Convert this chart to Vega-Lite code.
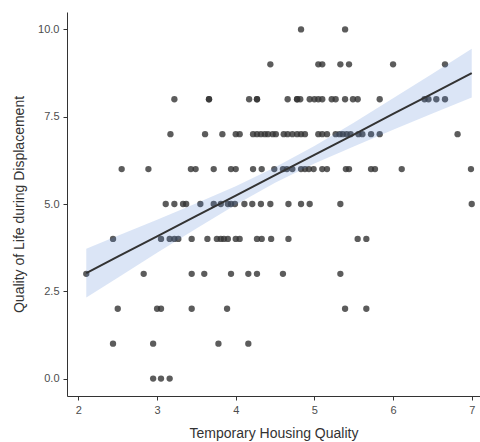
{
  "$schema": "https://vega.github.io/schema/vega-lite/v6.json",
  "width": 413,
  "height": 384,
  "autosize": {"type": "none"},
  "padding": {"left": 67, "top": 12, "right": 0, "bottom": 46},
  "background": "white",
  "config": {
    "view": {"stroke": null},
    "font": "Liberation Sans",
    "axis": {
      "grid": false,
      "domainColor": "#333333",
      "domainWidth": 1,
      "tickColor": "#333333",
      "tickSize": 4,
      "labelColor": "#4d4d4d",
      "labelFontSize": 11,
      "labelFont": "Liberation Sans",
      "titleFont": "Liberation Sans",
      "titleFontSize": 14,
      "titleFontWeight": "normal",
      "titleColor": "#333333"
    }
  },
  "datasets": {
    "pts": [
      {"housing": 4.83, "life": 10}, {"housing": 5.39, "life": 10},
      {"housing": 4.44, "life": 9}, {"housing": 5.05, "life": 9}, {"housing": 5.10, "life": 9}, {"housing": 5.33, "life": 9}, {"housing": 5.44, "life": 9}, {"housing": 6.0, "life": 9}, {"housing": 6.66, "life": 9},
      {"housing": 3.22, "life": 8}, {"housing": 3.66, "life": 8}, {"housing": 3.66, "life": 8}, {"housing": 4.17, "life": 8}, {"housing": 4.27, "life": 8}, {"housing": 4.27, "life": 8}, {"housing": 4.66, "life": 8}, {"housing": 4.78, "life": 8}, {"housing": 4.78, "life": 8}, {"housing": 4.82, "life": 8}, {"housing": 4.94, "life": 8}, {"housing": 5.0, "life": 8}, {"housing": 5.05, "life": 8}, {"housing": 5.10, "life": 8}, {"housing": 5.22, "life": 8}, {"housing": 5.27, "life": 8}, {"housing": 5.39, "life": 8}, {"housing": 5.49, "life": 8}, {"housing": 5.55, "life": 8}, {"housing": 5.83, "life": 8}, {"housing": 6.40, "life": 8}, {"housing": 6.45, "life": 8}, {"housing": 6.55, "life": 8}, {"housing": 6.66, "life": 8},
      {"housing": 3.17, "life": 7}, {"housing": 3.61, "life": 7}, {"housing": 3.83, "life": 7}, {"housing": 4.0, "life": 7}, {"housing": 4.05, "life": 7}, {"housing": 4.22, "life": 7}, {"housing": 4.27, "life": 7}, {"housing": 4.32, "life": 7}, {"housing": 4.37, "life": 7}, {"housing": 4.41, "life": 7}, {"housing": 4.47, "life": 7}, {"housing": 4.51, "life": 7}, {"housing": 4.61, "life": 7}, {"housing": 4.66, "life": 7}, {"housing": 4.72, "life": 7}, {"housing": 4.78, "life": 7}, {"housing": 4.83, "life": 7}, {"housing": 4.88, "life": 7}, {"housing": 5.05, "life": 7}, {"housing": 5.10, "life": 7}, {"housing": 5.16, "life": 7}, {"housing": 5.27, "life": 7}, {"housing": 5.32, "life": 7}, {"housing": 5.36, "life": 7}, {"housing": 5.41, "life": 7}, {"housing": 5.46, "life": 7}, {"housing": 5.56, "life": 7}, {"housing": 5.61, "life": 7}, {"housing": 5.72, "life": 7}, {"housing": 5.83, "life": 7}, {"housing": 6.82, "life": 7},
      {"housing": 2.55, "life": 6}, {"housing": 2.89, "life": 6}, {"housing": 3.43, "life": 6}, {"housing": 3.49, "life": 6}, {"housing": 3.72, "life": 6}, {"housing": 3.94, "life": 6}, {"housing": 4.0, "life": 6}, {"housing": 4.22, "life": 6}, {"housing": 4.33, "life": 6}, {"housing": 4.49, "life": 6}, {"housing": 4.60, "life": 6}, {"housing": 4.65, "life": 6}, {"housing": 4.72, "life": 6}, {"housing": 4.83, "life": 6}, {"housing": 4.88, "life": 6}, {"housing": 4.93, "life": 6}, {"housing": 4.99, "life": 6}, {"housing": 5.10, "life": 6}, {"housing": 5.16, "life": 6}, {"housing": 5.40, "life": 6}, {"housing": 5.44, "life": 6}, {"housing": 5.72, "life": 6}, {"housing": 5.77, "life": 6}, {"housing": 6.11, "life": 6}, {"housing": 6.99, "life": 6},
      {"housing": 3.11, "life": 5}, {"housing": 3.22, "life": 5}, {"housing": 3.33, "life": 5}, {"housing": 3.37, "life": 5}, {"housing": 3.55, "life": 5}, {"housing": 3.72, "life": 5}, {"housing": 3.81, "life": 5}, {"housing": 3.90, "life": 5}, {"housing": 3.94, "life": 5}, {"housing": 3.99, "life": 5}, {"housing": 4.11, "life": 5}, {"housing": 4.21, "life": 5}, {"housing": 4.32, "life": 5}, {"housing": 4.44, "life": 5}, {"housing": 4.67, "life": 5}, {"housing": 4.83, "life": 5}, {"housing": 4.94, "life": 5}, {"housing": 5.33, "life": 5}, {"housing": 7.0, "life": 5},
      {"housing": 2.44, "life": 4}, {"housing": 3.05, "life": 4}, {"housing": 3.16, "life": 4}, {"housing": 3.22, "life": 4}, {"housing": 3.27, "life": 4}, {"housing": 3.44, "life": 4}, {"housing": 3.64, "life": 4}, {"housing": 3.76, "life": 4}, {"housing": 3.81, "life": 4}, {"housing": 3.85, "life": 4}, {"housing": 3.90, "life": 4}, {"housing": 4.0, "life": 4}, {"housing": 4.05, "life": 4}, {"housing": 4.27, "life": 4}, {"housing": 4.33, "life": 4}, {"housing": 4.45, "life": 4}, {"housing": 4.67, "life": 4}, {"housing": 5.55, "life": 4}, {"housing": 5.66, "life": 4},
      {"housing": 2.10, "life": 3}, {"housing": 2.83, "life": 3}, {"housing": 3.44, "life": 3}, {"housing": 3.60, "life": 3}, {"housing": 3.94, "life": 3}, {"housing": 4.16, "life": 3}, {"housing": 4.27, "life": 3}, {"housing": 4.60, "life": 3}, {"housing": 5.33, "life": 3},
      {"housing": 2.50, "life": 2}, {"housing": 3.0, "life": 2}, {"housing": 3.05, "life": 2}, {"housing": 3.44, "life": 2}, {"housing": 3.89, "life": 2}, {"housing": 5.39, "life": 2}, {"housing": 5.66, "life": 2},
      {"housing": 2.44, "life": 1}, {"housing": 2.95, "life": 1}, {"housing": 3.78, "life": 1}, {"housing": 4.16, "life": 1},
      {"housing": 2.95, "life": 0}, {"housing": 3.05, "life": 0}, {"housing": 3.16, "life": 0}
    ],
    "band": [
      {"housing": 2.1, "lo": 2.32, "fit": 3.02, "hi": 3.72},
      {"housing": 2.5, "lo": 2.89, "fit": 3.49, "hi": 4.09},
      {"housing": 3.0, "lo": 3.60, "fit": 4.07, "hi": 4.55},
      {"housing": 3.5, "lo": 4.30, "fit": 4.66, "hi": 5.02},
      {"housing": 4.0, "lo": 4.98, "fit": 5.24, "hi": 5.51},
      {"housing": 4.5, "lo": 5.61, "fit": 5.83, "hi": 6.05},
      {"housing": 5.0, "lo": 6.16, "fit": 6.41, "hi": 6.66},
      {"housing": 5.5, "lo": 6.65, "fit": 6.99, "hi": 7.33},
      {"housing": 6.0, "lo": 7.13, "fit": 7.58, "hi": 8.03},
      {"housing": 6.5, "lo": 7.59, "fit": 8.16, "hi": 8.73},
      {"housing": 7.0, "lo": 8.05, "fit": 8.75, "hi": 9.45}
    ]
  },
  "layer": [
    {
      "data": {"name": "pts"},
      "mark": {"type": "circle", "size": 40, "color": "#333333", "opacity": 0.8},
      "encoding": {
        "x": {"field": "housing", "type": "quantitative", "scale": {"domain": [1.855, 7.105], "nice": false, "zero": false},
              "axis": {"values": [2, 3, 4, 5, 6, 7], "format": "d", "title": "Temporary Housing Quality", "titlePadding": 11, "labelPadding": 4}},
        "y": {"field": "life", "type": "quantitative", "scale": {"domain": [-0.5, 10.5], "nice": false, "zero": false},
              "axis": {"values": [0, 2.5, 5, 7.5, 10], "format": ".1f", "title": "Quality of Life during Displacement", "titlePadding": 11, "labelPadding": 4}}
      }
    },
    {
      "data": {"name": "band"},
      "mark": {"type": "area", "color": "#4b7dd2", "opacity": 0.2},
      "encoding": {
        "x": {"field": "housing", "type": "quantitative"},
        "y": {"field": "lo", "type": "quantitative"},
        "y2": {"field": "hi"}
      }
    },
    {
      "data": {"name": "band"},
      "mark": {"type": "line", "color": "#333333", "strokeWidth": 2},
      "encoding": {
        "x": {"field": "housing", "type": "quantitative"},
        "y": {"field": "fit", "type": "quantitative"}
      }
    }
  ]
}
